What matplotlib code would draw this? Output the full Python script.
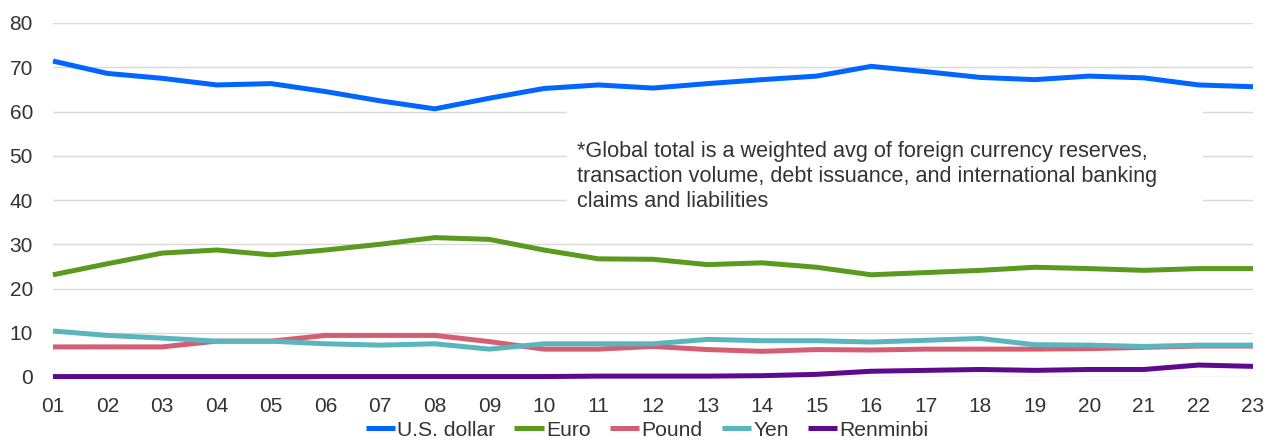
import numpy as np
import matplotlib.pyplot as plt
from matplotlib.patches import Rectangle

plt.rcParams['font.family'] = ['Liberation Sans', 'DejaVu Sans']

years = ['01', '02', '03', '04', '05', '06', '07', '08', '09', '10', '11', '12',
         '13', '14', '15', '16', '17', '18', '19', '20', '21', '22', '23']

usd = [71.4, 68.6, 67.5, 66.0, 66.3, 64.5, 62.4, 60.6, 63.0, 65.2, 66.0, 65.3,
       66.3, 67.2, 68.0, 70.2, 69.0, 67.7, 67.2, 68.0, 67.6, 66.0, 65.6]
euro = [23.1, 25.6, 28.0, 28.7, 27.6, 28.7, 30.0, 31.5, 31.1, 28.7, 26.7, 26.6,
        25.4, 25.8, 24.8, 23.1, 23.6, 24.1, 24.8, 24.5, 24.1, 24.5, 24.5]
pound = [6.8, 6.8, 6.8, 8.1, 8.1, 9.4, 9.4, 9.4, 8.0, 6.3, 6.3, 6.9,
         6.2, 5.8, 6.2, 6.1, 6.3, 6.3, 6.3, 6.4, 6.7, 7.0, 7.0]
yen = [10.4, 9.4, 8.8, 8.1, 8.1, 7.5, 7.2, 7.5, 6.3, 7.5, 7.5, 7.5,
       8.5, 8.2, 8.2, 7.9, 8.3, 8.7, 7.3, 7.2, 6.9, 7.2, 7.2]
renminbi = [0.1, 0.1, 0.1, 0.1, 0.1, 0.1, 0.1, 0.1, 0.1, 0.1, 0.2, 0.2,
            0.2, 0.3, 0.6, 1.3, 1.5, 1.7, 1.5, 1.7, 1.7, 2.7, 2.4]

series = [('U.S. dollar', usd, '#0066ff'),
          ('Euro', euro, '#5a9a1e'),
          ('Pound', pound, '#d45f75'),
          ('Yen', yen, '#5bb5bc'),
          ('Renminbi', renminbi, '#5e0a8e')]

note = ('*Global total is a weighted avg of foreign currency reserves,\n'
        'transaction volume, debt issuance, and international banking\n'
        'claims and liabilities')

fig = plt.figure(figsize=(12.67, 4.41), dpi=100)
ax = fig.add_axes([53/1267, 64/441, 1200/1267, 354/441])

x = np.arange(1, len(years) + 1)
for name, vals, col in series:
    ax.plot(x, vals, color=col, lw=3.6, label=name, zorder=3,
            clip_on=False, solid_capstyle='butt')

ax.set_xlim(1, 23)
ax.set_ylim(0, 80)
ax.set_xticks(x)
ax.set_xticklabels(years)
ax.set_yticks(np.arange(0, 81, 10))
ax.tick_params(axis='both', length=0, labelsize=15, colors='#333333')
ax.tick_params(axis='y', pad=14.4)
ax.tick_params(axis='x', pad=14.5)
for s in ax.spines.values():
    s.set_visible(False)
ax.grid(axis='y', color='#d9d9d9', lw=1)
ax.set_axisbelow(True)

# white box behind the footnote hides the gridlines
ax.add_patch(Rectangle((514/1200, (377 - 225)/354), 636/1200, 130/354,
                       transform=ax.transAxes, facecolor='white',
                       edgecolor='none', zorder=1))
ax.text(524/1200, (377 - 141)/354, note, transform=ax.transAxes,
        fontsize=15.6, color='#333333', va='top', ha='left',
        linespacing=1.25, zorder=2)

fig.legend(loc='center', bbox_to_anchor=(647/1267, 11/441), ncol=5,
           frameon=False, fontsize=15.2, handlelength=1.4, handletextpad=0.1,
           columnspacing=0.9, labelcolor='#333333')

fig.savefig('out.png', dpi=100)
